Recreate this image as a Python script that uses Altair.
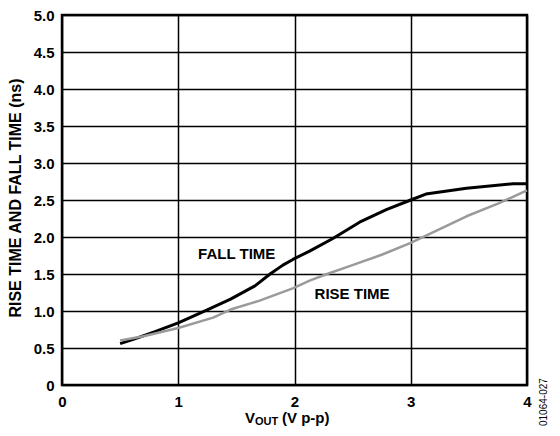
import altair as alt
import pandas as pd

# Fall time (black)
fall_x = [0.5, 0.6, 0.8, 1.0, 1.24, 1.45, 1.66, 1.79, 1.9, 1.99, 2.13, 2.33, 2.56, 2.79, 3.0, 3.13, 3.48, 3.88, 4.0]
fall_y = [0.56, 0.61, 0.72, 0.84, 1.01, 1.16, 1.34, 1.50, 1.62, 1.70, 1.81, 1.98, 2.20, 2.37, 2.50, 2.58, 2.66, 2.72, 2.72]
# Rise time (gray)
rise_x = [0.5, 0.7, 1.0, 1.3, 1.45, 1.7, 1.99, 2.13, 2.28, 2.48, 2.75, 3.0, 3.48, 3.75, 4.0]
rise_y = [0.60, 0.66, 0.77, 0.91, 1.02, 1.14, 1.31, 1.41, 1.50, 1.61, 1.76, 1.92, 2.28, 2.45, 2.63]

x_ticks = [0, 1, 2, 3, 4]
y_ticks = [0, 0.5, 1.0, 1.5, 2.0, 2.5, 3.0, 3.5, 4.0, 4.5, 5.0]

label_text = ["FALL TIME", "RISE TIME"]
label_x = [1.503, 2.495]
label_y = [1.77, 1.236]

FONT = "Arial, Liberation Sans, Helvetica, sans-serif"

df = pd.DataFrame(
    {"x": fall_x + rise_x,
     "y": fall_y + rise_y,
     "series": ["Fall"] * len(fall_x) + ["Rise"] * len(rise_x),
     "order": list(range(len(fall_x))) + list(range(len(rise_x)))}
)
labels = pd.DataFrame({"t": label_text, "x": label_x, "y": label_y})

xscale = alt.Scale(domain=[0, 4], nice=False, zero=False)
yscale = alt.Scale(domain=[0, 5], nice=False, zero=False)

def xaxis():
    return alt.Axis(values=x_ticks, tickCount=len(x_ticks) + 10, title=None, grid=True, ticks=False,
                    domain=False, labelPadding=9, labelOverlap=False, labelFlush=False,
                    labelExpr="format(datum.value, 'd')")

def yaxis():
    return alt.Axis(values=y_ticks, tickCount=len(y_ticks) + 10, title=None, grid=True, ticks=False,
                    domain=False, labelPadding=8, labelOverlap=False, labelFlush=False,
                    labelExpr="datum.value == 0 ? '0' : format(datum.value, '.1f')")

lines = alt.Chart(df).mark_line(strokeJoin="round", strokeCap="butt").encode(
    x=alt.X("x:Q", scale=xscale, axis=xaxis()),
    y=alt.Y("y:Q", scale=yscale, axis=yaxis()),
    color=alt.Color("series:N", scale=alt.Scale(domain=["Fall", "Rise"], range=["#000000", "#9a9a9a"]), legend=None),
    strokeWidth=alt.StrokeWidth("series:N", scale=alt.Scale(domain=["Fall", "Rise"], range=[3, 2.5]), legend=None),
    order="order:Q",
    detail="series:N",
)

series_labels = alt.Chart(labels).mark_text(font=FONT, fontSize=15, fontWeight="bold", color="black").encode(
    x=alt.X("x:Q", scale=xscale, axis=xaxis()),
    y=alt.Y("y:Q", scale=yscale, axis=yaxis()),
    text="t:N",
)

def txt(s, x, y, size=15, weight="bold", align="left", baseline="alphabetic", angle=0):
    return alt.Chart(pd.DataFrame({"t": [s]})).mark_text(
        font=FONT, fontSize=size, fontWeight=weight, color="black",
        align=align, baseline=baseline, angle=angle
    ).encode(x=alt.value(x), y=alt.value(y), text="t:N")

ytitle = txt("RISE TIME AND FALL TIME (ns)", -46, 183, size=16, align="center", baseline="middle", angle=270)
xt1 = txt("V", 183, 408)
xt2 = txt("OUT", 193, 410, size=11)
xt3 = txt("(V p-p)", 220, 408)
code = txt("01064-027", 482, 411, size=10, weight="normal", align="left", baseline="middle", angle=270)

chart = alt.layer(lines, series_labels, ytitle, xt1, xt2, xt3, code).properties(
    width=465, height=370,
    autosize=alt.AutoSizeParams(type="none"),
    padding={"left": 54, "top": 7, "right": 25, "bottom": 43},
).configure_view(
    stroke="black", strokeWidth=2.5
).configure_axis(
    labelFont=FONT, labelFontSize=15, labelFontWeight="bold", labelColor="black",
    gridColor="black", gridWidth=1.5, gridOpacity=1, labelOverlap=False,
)

chart.save("out.html", embed_options={"renderer": "svg", "actions": False})
